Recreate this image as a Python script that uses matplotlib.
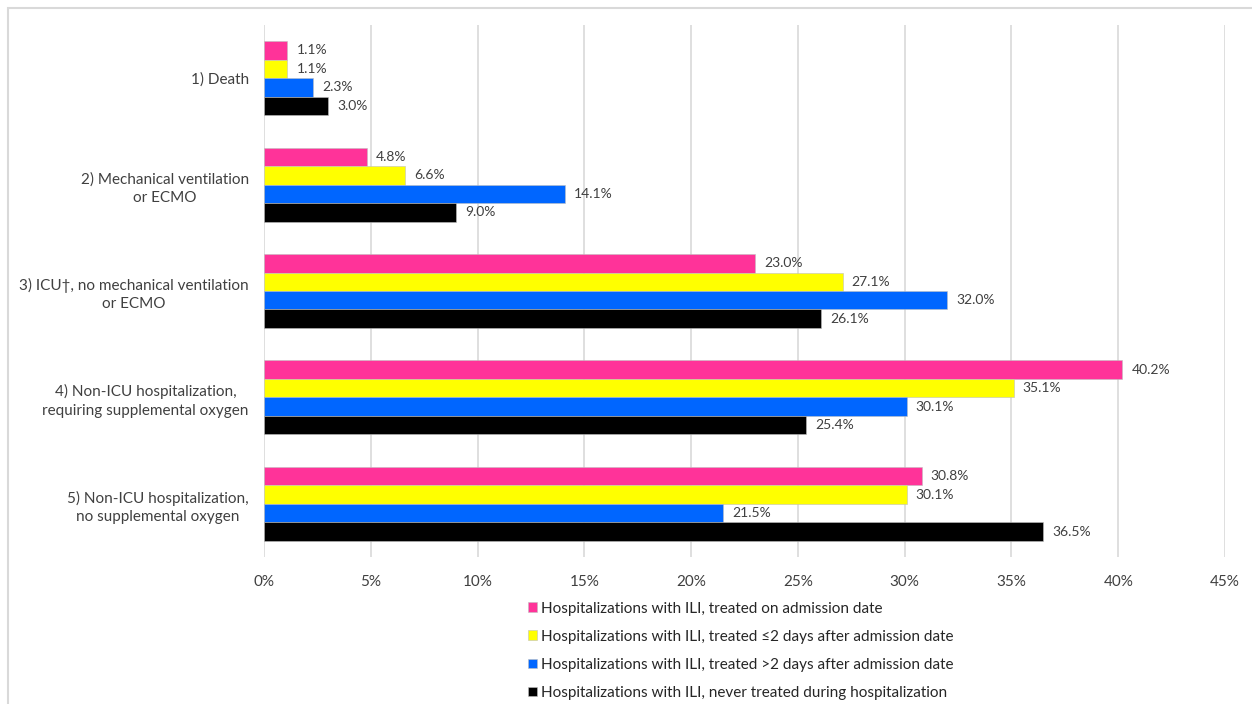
import matplotlib
matplotlib.use("Agg")
import matplotlib.pyplot as plt
from matplotlib.patches import Rectangle
import numpy as np

plt.rcParams['font.family'] = ['Lato', 'DejaVu Sans']

categories = ["1) Death",
              "2) Mechanical ventilation\nor ECMO",
              "3) ICU\u2020, no mechanical ventilation\nor ECMO",
              "4) Non-ICU hospitalization,\nrequiring supplemental oxygen",
              "5) Non-ICU hospitalization,\nno supplemental oxygen"]
series_names = ["Hospitalizations with ILI, treated on admission date",
                "Hospitalizations with ILI, treated \u22642 days after admission date",
                "Hospitalizations with ILI, treated >2 days after admission date",
                "Hospitalizations with ILI, never treated during hospitalization"]
treated_admission = [1.1, 4.8, 23.0, 40.2, 30.8]
treated_le2 = [1.1, 6.6, 27.1, 35.1, 30.1]
treated_gt2 = [2.3, 14.1, 32.0, 30.1, 21.5]
never_treated = [3.0, 9.0, 26.1, 25.4, 36.5]
colors = ["#FF3399", "#FFFF00", "#0066FF", "#000000"]
xticks = [0, 5, 10, 15, 20, 25, 30, 35, 40, 45]

W, H = 1252, 704
fig = plt.figure(figsize=(W / 100, H / 100), dpi=100)
fig.patches.append(Rectangle((8 / W, -0.1), 1.2, 1 - 8 / H + 0.1, transform=fig.transFigure,
                             fill=False, edgecolor="#d9d9d9", linewidth=1.5))
ax = fig.add_axes([264 / W, 1 - 557 / H, (1225 - 264) / W, (557 - 25) / H])

h = 18.5 / 106.5
y = np.arange(len(categories))
all_series = [treated_admission, treated_le2, treated_gt2, never_treated]
for i, (vals, c, name) in enumerate(zip(all_series, colors, series_names)):
    pos = y + (i - 1.5) * h
    ax.barh(pos, vals, height=h, color=c, edgecolor="#bfbfbf", linewidth=0.4,
            label=name, zorder=3)
    for yy, v in zip(pos, vals):
        ax.text(v + 0.42, yy, f"{v:.1f}%", va="center", ha="left", fontsize=10,
                color="#404040", zorder=4)

ax.set_xlim(0, 45)
ax.set_ylim(len(categories) - 0.5, -0.5)
ax.set_xticks(xticks)
ax.set_xticklabels([f"{t}%" for t in xticks], fontsize=11, color="#404040")
ax.set_yticks(y)
ax.set_yticklabels(categories, fontsize=11, color="#404040", multialignment="center",
                   linespacing=1.4)
ax.tick_params(axis="x", length=0, pad=13)
ax.tick_params(axis="y", length=0, pad=11)
ax.grid(axis="x", color="#d9d9d9", linewidth=1.2, zorder=0)
for s in ax.spines.values():
    s.set_visible(False)

fig.legend(loc="upper left", bbox_to_anchor=(520 / W, 1 - 594 / H), frameon=False,
           fontsize=11, handlelength=0.6, handleheight=0.6, handletextpad=0.3,
           labelspacing=0.92, borderpad=0, labelcolor="#262626")

fig.savefig("out.png", dpi=100)
